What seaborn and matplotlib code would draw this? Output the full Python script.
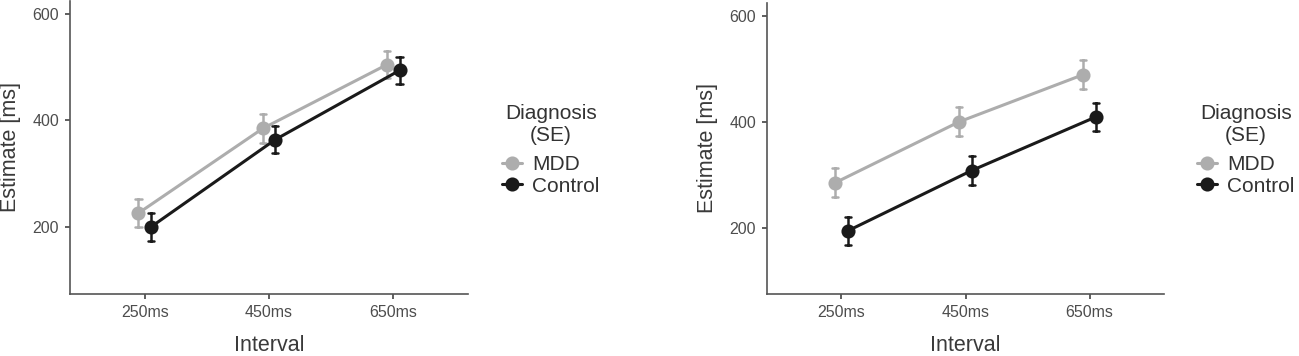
import matplotlib
matplotlib.use("Agg")
import matplotlib.pyplot as plt
import seaborn as sns
import pandas as pd

intervals = ["250ms", "450ms", "650ms"]
groups = ["MDD", "Control"]

left_mdd = [226, 385, 505]
left_mdd_se = [26, 28, 26]
left_ctrl = [200, 364, 494]
left_ctrl_se = [26, 26, 26]

right_mdd = [285, 400, 489]
right_mdd_se = [27, 27, 27]
right_ctrl = [194, 308, 409]
right_ctrl_se = [27, 27, 27]

yticks = [200, 400, 600]
palette = {"MDD": "#ADADAD", "Control": "#1A1A1A"}


def build(mdd, mdd_se, ctrl, ctrl_se):
    rows = []
    for g, means, ses in (("MDD", mdd, mdd_se), ("Control", ctrl, ctrl_se)):
        for iv, m, s in zip(intervals, means, ses):
            rows.append({"Interval": iv, "Diagnosis": g, "Estimate": m - s})
            rows.append({"Interval": iv, "Diagnosis": g, "Estimate": m + s})
    return pd.DataFrame(rows)


sns.set_theme(style="ticks")
plt.rcParams["font.family"] = ["Liberation Sans", "DejaVu Sans"]

fig = plt.figure(figsize=(12.99, 3.56), dpi=100)
axes = [
    fig.add_axes([70 / 1299, (356 - 293.6) / 356, 398 / 1299, 293 / 356]),
    fig.add_axes([767 / 1299, (356 - 294) / 356, 397 / 1299, 291.5 / 356]),
]
datasets = [
    build(left_mdd, left_mdd_se, left_ctrl, left_ctrl_se),
    build(right_mdd, right_mdd_se, right_ctrl, right_ctrl_se),
]
legend_pos = [(502 / 1299, 1 - 104 / 356), (1197 / 1299, 1 - 104 / 356)]

for ax, df, lpos in zip(axes, datasets, legend_pos):
    sns.pointplot(
        data=df, x="Interval", y="Estimate", hue="Diagnosis",
        order=intervals, hue_order=groups, palette=palette,
        estimator="mean", errorbar=lambda v: (v.min(), v.max()),
        dodge=0.1, capsize=0.05, markersize=8.5, linewidth=2.2,
        err_kws={"linewidth": 1.8}, ax=ax,
    )
    ax.set_xlim(-0.6, 2.6)
    ax.set_ylim(75, 625)
    ax.set_yticks(yticks)
    ax.set_xlabel("Interval", fontsize=15.5, color="#3A3A3A", labelpad=11)
    ax.set_ylabel("Estimate [ms]", fontsize=15.5, color="#3A3A3A", labelpad=8)
    ax.tick_params(axis="both", labelsize=11.5, colors="#333333",
                   labelcolor="#4D4D4D", length=3.5, width=1.1, pad=4.5)
    for s in ("top", "right"):
        ax.spines[s].set_visible(False)
    for s in ("left", "bottom"):
        ax.spines[s].set_color("#555555")
        ax.spines[s].set_linewidth(1.2)
    leg = ax.legend(
        title="Diagnosis\n(SE)", loc="upper left", bbox_to_anchor=lpos,
        bbox_transform=fig.transFigure, frameon=False, fontsize=15,
        title_fontsize=15, handlelength=0.95, handletextpad=0.5,
        labelspacing=0.1, borderaxespad=0, borderpad=0,
    )
    leg._legend_box.sep = 7.5
    leg.get_title().set_multialignment("center")
    leg.get_title().set_color("#333333")
    for t in leg.get_texts():
        t.set_color("#333333")

fig.savefig("out.png", dpi=100)
